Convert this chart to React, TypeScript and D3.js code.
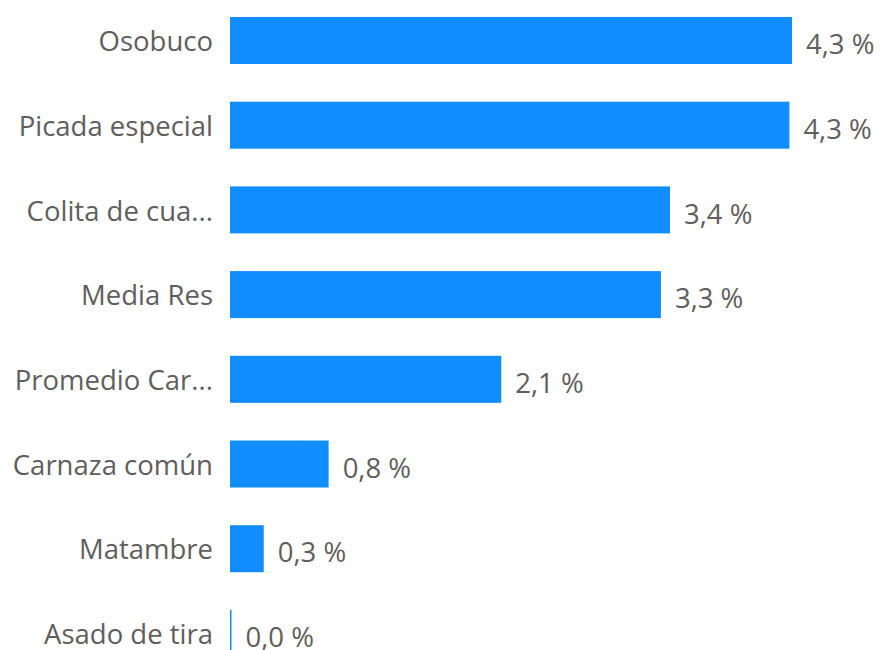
import { useEffect, useRef } from "react"
import * as d3 from "d3"

// categories top to bottom
const categories = [
  "Osobuco",
  "Picada especial",
  "Colita de cua...",
  "Media Res",
  "Promedio Car...",
  "Carnaza común",
  "Matambre",
  "Asado de tira",
]

// percent values
const values = [4.33, 4.31, 3.39, 3.32, 2.09, 0.76, 0.26, 0.01]

const width = 880
const height = 650

export default function App() {
  const svgRef = useRef<SVGSVGElement>(null)

  useEffect(() => {
    if (!svgRef.current) return
    const svg = d3.select(svgRef.current)
    svg.selectAll("*").remove()

    const step = 84.7
    const pad = 0.445
    const top = 17 - (step * pad) / 2

    const y = d3
      .scaleBand<string>()
      .domain(categories)
      .range([top, top + step * categories.length])
      .paddingInner(pad)
      .paddingOuter(pad / 2)

    const x = d3.scaleLinear().domain([0, 4.33]).range([230, 792])

    const locale = d3.formatLocale({ decimal: ",", thousands: ".", grouping: [3], currency: ["", "€"] })
    const fmt = locale.format(".1f")

    const rows = categories.map((c, i) => ({ name: c, value: values[i] }))

    const g = svg.append("g").style("font-family", "'Segoe UI', 'Open Sans', sans-serif")

    g.selectAll("rect")
      .data(rows)
      .enter()
      .append("rect")
      .attr("x", x(0))
      .attr("y", d => y(d.name)!)
      .attr("width", d => Math.max(1.5, x(d.value) - x(0)))
      .attr("height", y.bandwidth())
      .attr("fill", "#118DFF")

    // category labels
    g.selectAll("text.cat")
      .data(rows)
      .enter()
      .append("text")
      .attr("class", "cat")
      .attr("x", 213)
      .attr("y", d => y(d.name)! + y.bandwidth() / 2 + 1)
      .attr("dy", "0.35em")
      .attr("text-anchor", "end")
      .style("font-size", "27.5px")
      .attr("fill", "#605E5C")
      .text(d => d.name)

    // data labels
    g.selectAll("text.val")
      .data(rows)
      .enter()
      .append("text")
      .attr("class", "val")
      .attr("x", d => Math.max(x(d.value), x(0) + 1.5) + 14)
      .attr("y", d => y(d.name)! + y.bandwidth() / 2 + 4)
      .attr("dy", "0.35em")
      .style("font-size", "27.5px")
      .attr("fill", "#605E5C")
      .text(d => `${fmt(d.value)} %`)
  }, [])

  return (
    <svg
      ref={svgRef}
      width={width}
      height={height}
      style={{ position: "absolute", left: 0, top: 0, background: "#fff" }}
    ></svg>
  )
}
